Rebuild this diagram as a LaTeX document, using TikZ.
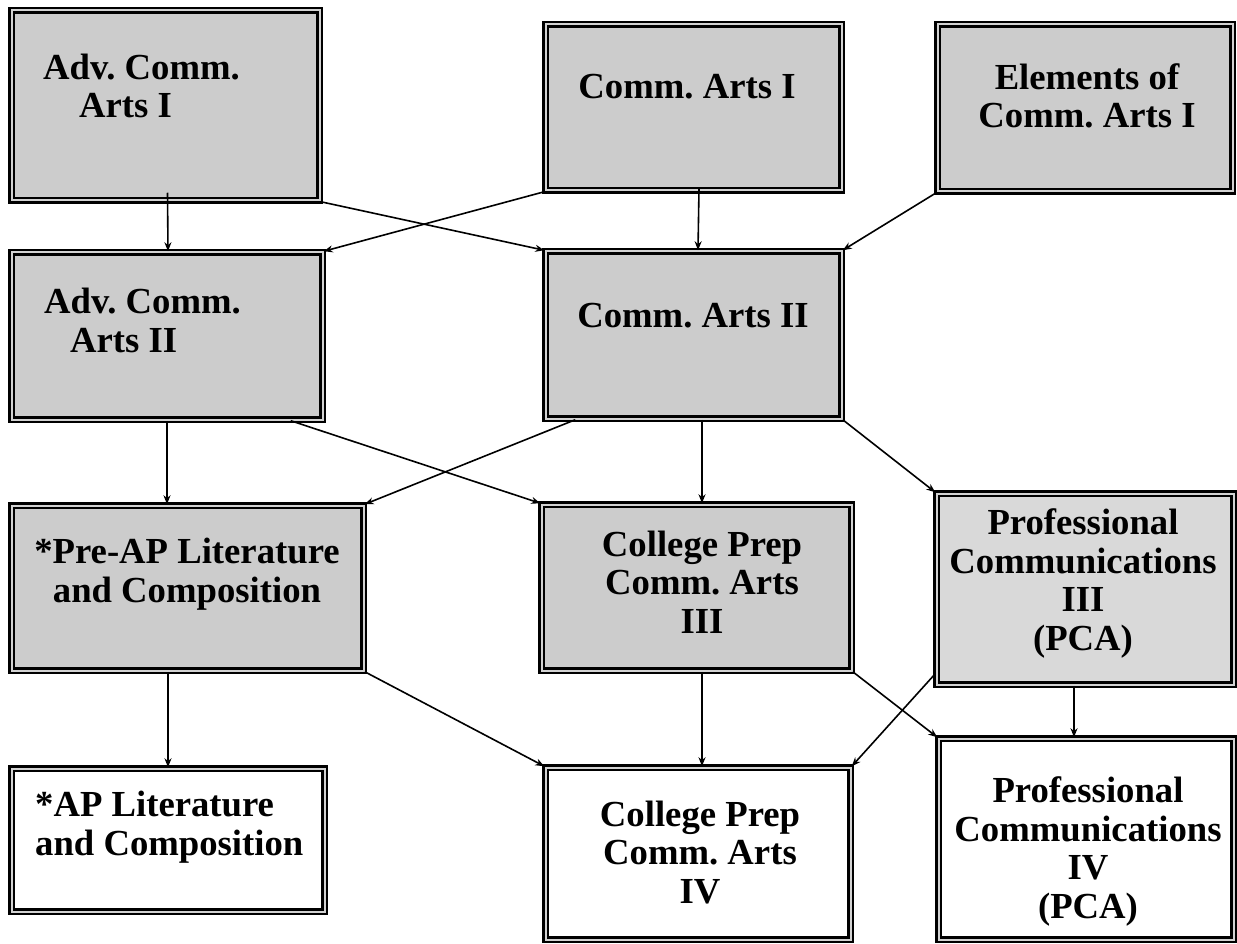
\documentclass[tikz,border=0pt]{standalone}
\usepackage{fontspec}
\setmainfont{Liberation Serif}
\usetikzlibrary{calc,arrows.meta}

\tikzset{
  course/.style 2 args={draw, line width=2.5pt, double=gray!35, double distance=2pt,
    fill=gray!40, inner sep=0pt, minimum width=#1, minimum height=#2},
  final/.style={fill=white},
  txt/.style={inner sep=0pt, font=\bfseries\fontsize{36.7}{38.5}\selectfont},
  arr/.style={line width=1.6pt, -{Stealth[length=9pt,width=7pt]}}
}

\begin{document}
\frenchspacing
\begin{tikzpicture}[x=1pt, y=-1pt]
  \useasboundingbox (0,0) rectangle (1237,944);

  % row 1
  \node[course={308pt}{190pt}] (acaI) at (165.5,105.5) {};
  \node[course={296pt}{166pt}] (caI) at (693.5,107.5) {};
  \node[course={295pt}{167pt}] (ecaI) at (1085,108) {};
  % row 2
  \node[course={311pt}{167pt}] (acaII) at (167,336) {};
  \node[course={296pt}{167pt}] (caII) at (693.5,335) {};
  % row 3
  \node[course={352pt}{165pt}] (preAP) at (187.5,588) {};
  \node[course={310pt}{166pt}] (cpIII) at (696.5,587.5) {};
  \node[course={297pt}{191pt}, fill=gray!30] (pcaIII) at (1085,589) {};
  % row 4
  \node[course={313pt}{143pt}, final] (apLit) at (168,840) {};
  \node[course={305pt}{172pt}, final] (cpIV) at (698,853.5) {};
  \node[course={295pt}{201pt}, final] (pcaIV) at (1086,839) {};

  \node[txt, align=left, anchor=base west] (acaIt) at (43,118) {Adv. Comm.\\\hspace*{36pt}Arts I};
  \node[txt, anchor=base] (caIt) at (687,99) {Comm. Arts I};
  \node[txt, align=center, anchor=base] (ecaIt) at (1087,128) {Elements of\\Comm. Arts I};
  \node[txt, align=left, anchor=base west] (acaIIt) at (44,352) {Adv. Comm.\\\hspace*{26pt}Arts II};
  \node[txt, anchor=base] (caIIt) at (693,327) {Comm. Arts II};
  \node[txt, align=center, anchor=base] (preAPt) at (187,602) {*Pre-AP Literature\\and Composition};
  \node[txt, align=center, anchor=base] (cpIIIt) at (702,633) {College Prep\\Comm. Arts\\III};
  \node[txt, align=center, anchor=base] (pcaIIIt) at (1083,650) {Professional\\Communications\\III\\(PCA)};
  \node[txt, align=left, anchor=base west] (apLitt) at (35,855) {*AP Literature\\and Composition};
  \node[txt, align=center, anchor=base] (cpIVt) at (700,903) {College Prep\\Comm. Arts\\IV};
  \node[txt, align=center, anchor=base] (pcaIVt) at (1088,918) {Professional\\Communications\\IV\\(PCA)};

  % prerequisites
  \draw[arr] ($(acaI.south)+(2,-9)$) -- ($(acaII.north)+(1,0)$);
  \draw[arr] (acaI.south east) -- (caII.north west);
  \draw[arr] (caI.south west) -- (acaII.north east);
  \draw[arr] ($(caI.south)+(5.5,-3)$) -- ($(caII.north)+(4.5,0)$);
  \draw[arr] (ecaI.south west) -- (caII.north east);
  \draw[arr] (acaII.south) -- (acaII.south |- preAP.north);
  \draw[arr] ($(acaII.south east)+(-33,0)$) -- (cpIII.north west);
  \draw[arr] ($(caII.south west)+(31,0)$) -- (preAP.north east);
  \draw[arr] ($(caII.south)+(8.5,0)$) -- ($(cpIII.north)+(5.5,0)$);
  \draw[arr] (caII.south east) -- (pcaIII.north west);
  \draw[arr] (apLit.north |- preAP.south) -- (apLit.north);
  \draw[arr] (preAP.south east) -- (cpIV.north west);
  \draw[arr] ($(cpIII.south)+(5.5,0)$) -- ($(cpIV.north)+(4,0)$);
  \draw[arr] (cpIII.south east) -- (pcaIV.north west);
  \draw[arr] ($(pcaIII.south west)+(0,-12)$) -- (cpIV.north east);
  \draw[arr] ($(pcaIII.south)+(-11,0)$) -- ($(pcaIV.north)+(-12,0)$);
\end{tikzpicture}
\end{document}
